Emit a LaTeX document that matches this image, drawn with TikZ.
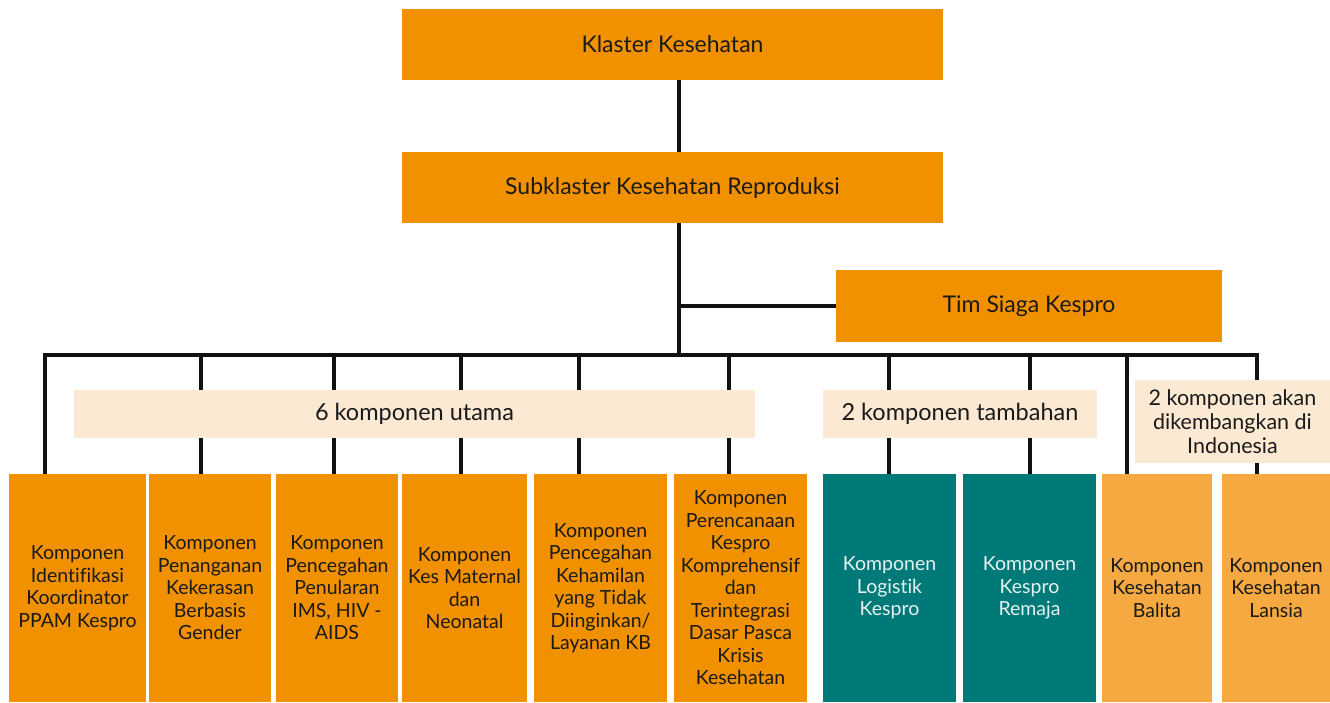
\documentclass[tikz,border=0pt]{standalone}
\usepackage{fontspec}
\setmainfont{Lato}[Ligatures=NoCommon]
\definecolor{korange}{HTML}{F29100}
\definecolor{kteal}{HTML}{007A78}
\definecolor{klight}{HTML}{F5A940}
\definecolor{kbeige}{HTML}{FCE9D3}
\definecolor{ktext}{HTML}{1A1A1A}
\definecolor{kline}{HTML}{111111}
\tikzset{
  basebox/.style={inner sep=0pt, align=center, font=\fontsize{19.5}{22.5}\selectfont},
  topbox/.style={basebox, fill=korange, text=ktext, font=\fontsize{23}{26}\selectfont},
  orbox/.style={basebox, fill=korange, text=ktext},
  tealbox/.style={basebox, fill=kteal, text=white!90!kteal},
  lightbox/.style={basebox, fill=klight, text=ktext},
  band/.style={basebox, fill=kbeige, text=ktext, font=\fontsize{23.5}{26}\selectfont},
  smallband/.style={basebox, fill=kbeige, text=ktext, font=\fontsize{21.5}{24}\selectfont},
  conn/.style={draw=kline, line width=4.5pt},
}
\newcommand{\bx}[6]{\node[#1, minimum width=#4pt, minimum height=#5pt] (#2) at (#3) {#6};}
\begin{document}
\begin{tikzpicture}[x=1pt,y=-1pt]
\useasboundingbox (0,0) rectangle (1330,702);
\bx{topbox}{k}{672.5,44.5}{541}{71}{Klaster Kesehatan}
\bx{topbox}{s}{672.5,187.5}{541}{71}{Subklaster Kesehatan Reproduksi}
\bx{topbox}{tim}{1029,306}{386}{72}{Tim Siaga Kespro}
\bx{orbox}{c1}{77.5,588}{137}{228}{Komponen\\Identifikasi\\Koordinator\\PPAM Kespro}
\bx{orbox}{c2}{210,588}{122}{228}{Komponen\\Penanganan\\Kekerasan\\Berbasis\\Gender}
\bx{orbox}{c3}{337,588}{122}{228}{Komponen\\Pencegahan\\Penularan\\IMS, HIV -\\AIDS}
\bx{orbox}{c4}{464.5,588}{125}{228}{Komponen\\Kes Maternal\\dan\\Neonatal}
\bx{orbox}{c5}{600.5,588}{133}{228}{Komponen\\Pencegahan\\Kehamilan\\yang Tidak\\Diinginkan/\\Layanan KB}
\bx{orbox}{c6}{740.5,588}{133}{228}{Komponen\\Perencanaan\\Kespro\\Komprehensif\\dan\\Terintegrasi\\Dasar Pasca\\Krisis\\Kesehatan}
\bx{tealbox}{c7}{889.5,588}{133}{228}{Komponen\\Logistik\\Kespro}
\bx{tealbox}{c8}{1029.5,588}{133}{228}{Komponen\\Kespro\\Remaja}
\bx{lightbox}{c9}{1157,588}{110}{228}{Komponen\\Kesehatan\\Balita}
\bx{lightbox}{c10}{1276,588}{108}{228}{Komponen\\Kesehatan\\Lansia}
% connectors
\coordinate (trunk) at (679,355);
\coordinate (d1) at (45,355);
\coordinate (d2) at (201,355);
\coordinate (d3) at (334,355);
\coordinate (d4) at (461,355);
\coordinate (d5) at (579,355);
\coordinate (d6) at (729,355);
\coordinate (d7) at (889,355);
\coordinate (d8) at (1030,355);
\coordinate (d9) at (1127,355);
\coordinate (d10) at (1257,355);
\draw[conn] (k.south -| trunk) -- (s.north -| trunk);
\draw[conn] (s.south -| trunk) -- (trunk);
\draw[conn] (trunk |- tim.west) -- (tim.west);
\draw[conn] (d1 |- c1.north) -- (d1) -- (d10) -- (d10 |- c10.north);
\foreach \i/\c in {2/c2,3/c3,4/c4,5/c5,6/c6,7/c7,8/c8,9/c9}{
  \draw[conn] (d\i) -- (d\i |- \c.north);
}
% bands over the lines
\bx{band}{u6}{414.5,414}{681}{48}{6 komponen utama}
\bx{band}{u2}{960,414}{274}{48}{2 komponen tambahan}
\bx{smallband}{u3}{1232.5,421.5}{195}{83}{2 komponen akan\\dikembangkan di\\Indonesia}
\end{tikzpicture}
\end{document}
